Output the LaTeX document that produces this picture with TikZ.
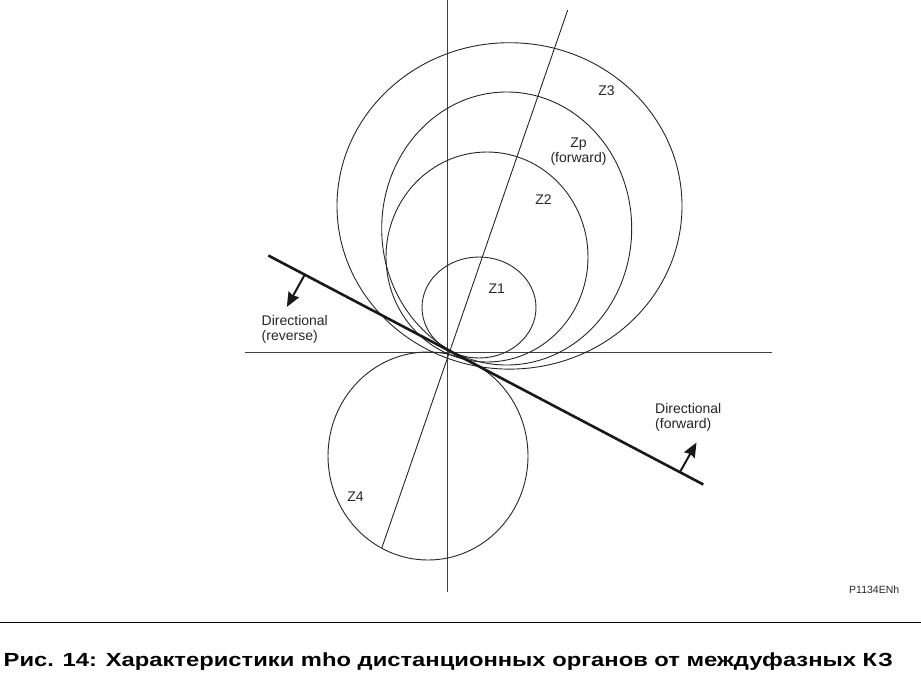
\documentclass[tikz,border=0pt]{standalone}
\usepackage{fontspec}
\setmainfont{Liberation Sans}
\newfontfamily\capfont[FakeStretch=1.25]{Liberation Sans}
\usetikzlibrary{arrows.meta}
\begin{document}
\begin{tikzpicture}[x=1pt,y=-1pt,
  thinline/.style={line width=0.9pt, black!85},
  axisline/.style={line width=1pt, black!75},
  dirline/.style={line width=2.6pt, black!90},
  dirarrow/.style={line width=2pt, black!90, -{Stealth[length=14.5pt,width=12pt,inset=1.5pt]}},
  lbl/.style={inner sep=0pt, font=\fontsize{14}{15}\selectfont, text=black!85},
]
\useasboundingbox (0,0) rectangle (921,675);

% axes
\coordinate (vtop) at (447.7,0);
\coordinate (vbot) at (447.7,592);
\coordinate (hl) at (245,352);
\coordinate (hr) at (772,352);
\draw[axisline] (vtop) -- (vbot);
\draw[axisline] (hl) -- (hr);

% characteristic angle line
\coordinate (ltop) at (567.7,10);
\coordinate (lbot) at (381.7,548.3);
\draw[thinline] (ltop) -- (lbot);

% mho circles
\draw[thinline] (479,307.5) ellipse [x radius=57, y radius=50.5];
\draw[thinline] (487,257) ellipse [x radius=101, y radius=105];
\draw[thinline] (506.7,228.5) ellipse [x radius=125, y radius=136.5];
\draw[thinline] (509.5,205.9) ellipse [x radius=172.5, y radius=163.2];
\draw[thinline] (428,456) ellipse [x radius=100, y radius=104];

% directional line
\coordinate (dl) at (268.3,255.5);
\coordinate (dr) at (703.3,484.5);
\draw[dirline] (dl) -- (dr);
\coordinate (rb) at (304.3,275.5);
\coordinate (rt) at (286.8,307);
\coordinate (fb) at (680,472);
\coordinate (ft) at (696.5,442.5);
\draw[dirarrow] (rb) -- (rt);
\draw[dirarrow] (fb) -- (ft);

% labels
\node[lbl, anchor=west, align=left] (rev) at (261.5,329) {Directional\\(reverse)};
\node[lbl, anchor=west, align=left] (fwd) at (655,417) {Directional\\(forward)};
\node[lbl] (z3) at (606.5,91) {Z3};
\node[lbl, align=center] (zp) at (578.5,152) {Zp\\(forward)};
\node[lbl] (z2) at (543.5,199.5) {Z2};
\node[lbl] (z1) at (496.7,288.7) {Z1};
\node[lbl] (z4) at (355.5,496.7) {Z4};
\node[inner sep=0pt, anchor=base west, font=\fontsize{10.5}{12}\selectfont, text=black!85] (ref) at (849,593.3) {P1134ENh};

% caption rule and caption
\coordinate (cl) at (0,622.3);
\coordinate (cr) at (921,622.3);
\draw[line width=1.3pt] (cl) -- (cr);
\node[inner sep=0pt, anchor=base west, font=\fontsize{19}{21}\capfont\bfseries] (cap) at (3.5,666) {Рис. 14: Характеристики mho дистанционных органов от междуфазных КЗ};
\end{tikzpicture}
\end{document}
